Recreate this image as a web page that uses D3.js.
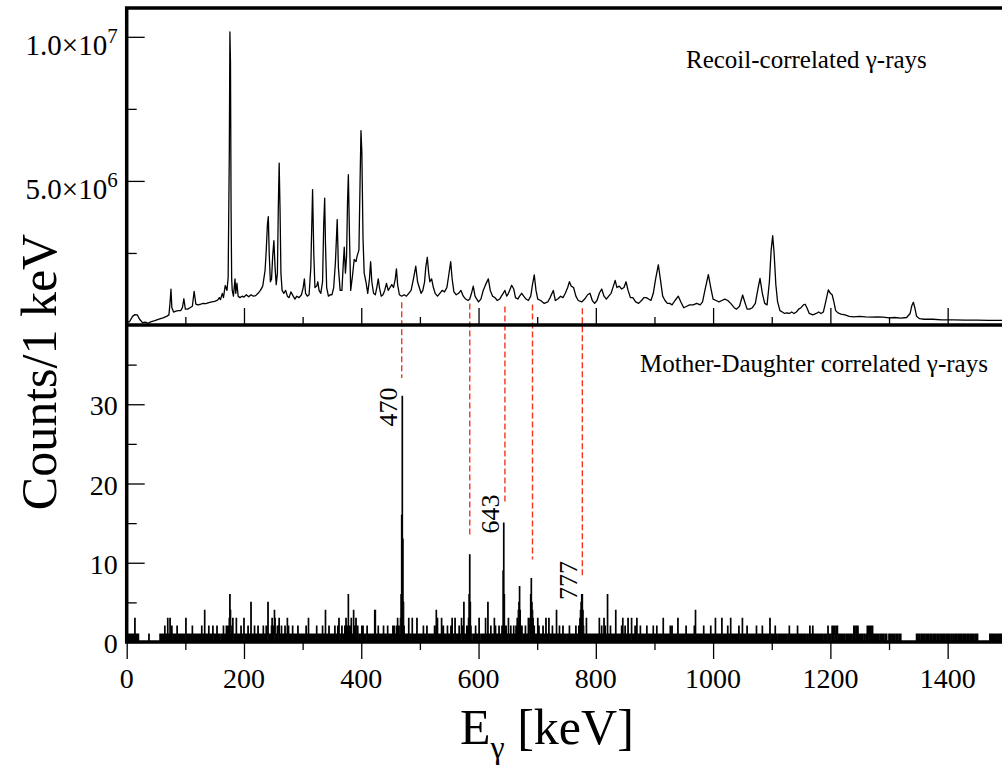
<!DOCTYPE html>
<html><head><meta charset="utf-8">
<script src="https://cdn.jsdelivr.net/npm/d3@7"></script>
<style>
body{margin:0;background:#fff}
svg{display:block}
svg text{font-family:"Liberation Serif","DejaVu Serif","Times New Roman",Times,serif;fill:#000}
</style>
</head><body>
<svg id="chart" width="1002" height="770" font-family="Liberation Serif, DejaVu Serif, serif"></svg>
<script>
// ---------- DATA ----------
// Top panel: recoil-correlated gamma spectrum (energy in keV, counts in units of 10^6)
const topEnergy = [0,5,10,14,18,22,27,32,36,42,48,55,62,68,72,74,75.5,77,80,84,88,92,95,97.5,100,104,108,112,115,118,122,126,130,135,140,145,150,155,158,160,163,165,168,171,173,175,176,177,178,179,180,182,184.7,186,188,190,193,197,200,204,208,212,216,220,224,228,232,236,238,240,241.5,243,245,247,249,251,253,255,257,258.5,260,261.5,263,265,268,271,274,277,280,284,287,290,294,298,301,303,305,308,311,314,317,319,321,324,326,328,331,334,336,337.6,339,341,344,347,350,353,356,359,361,364,367,369,371,373,375,376.5,378,380,382,385,388,391,393,396,398,399.5,401,403,405,408,411,414,416,418,421,424,426.5,429,431,434,437,440,443,446,449,452,455,458,460,462,465,469,473,477,481,485,489,493,496,499,502,505,508,510,512.6,515,517,520,523,526,530,534,538,542,546,549,552.5,555,558,562,566,570,574,578,582,585,588,591,594,597,600,604,608,612,616.7,620,624,628,632,636,639,642,645,648,651,656.5,660,663,667,670,673.6,677,681,685,689,692,695,698,701,706,712,718,722,727.5,731,735,740,744,748,752,755,758,762,766,770,776,781,786,790,794,798,802,806,810,814,818,822,826,830,833,836,840,844,848,851.5,855,859,863,868,873,878,882,886,890,894,898,902,906.6,910,914,918,922,926,930,935,940.7,945,950,955,960,966,972,978,982,986,991.9,996,1000,1005,1010,1015,1020,1025,1030,1036,1040,1045,1050.4,1054,1058,1062,1067,1072,1076,1080,1084,1088,1092,1096,1099,1101.6,1104,1107,1110,1114,1118,1122,1126,1130,1134,1138,1142,1146,1150,1154,1157,1160,1164,1170,1176,1180,1184,1188,1192,1196.5,1200,1203,1206,1209,1213,1218,1225,1232,1240,1250,1260,1270,1280,1290,1300,1310,1320,1330,1336,1339,1341.5,1344,1347,1352,1360,1375,1390,1410,1430,1450,1470,1490,1500];
const topCountsM = [0.08,0.12,0.30,0.36,0.35,0.20,0.08,0.10,0.06,0.12,0.15,0.20,0.25,0.30,0.35,0.8,1.24,0.6,0.45,0.48,0.5,0.5,0.6,0.91,0.55,0.55,0.6,0.65,1.17,0.72,0.7,0.72,0.75,0.74,0.78,0.8,0.82,0.86,0.95,0.88,1.1,0.95,1.37,1.2,1.65,6.0,10.17,9.1,4.0,1.6,1.2,1.0,1.6,1.1,1.45,1.0,0.95,1.0,0.97,1.05,0.98,1.05,1.0,1.02,1.1,1.2,1.35,1.9,2.6,3.5,3.76,2.5,1.5,1.6,2.4,2.93,2.0,1.4,1.8,4.0,5.62,4.0,1.8,1.2,1.1,1.2,1.0,0.95,1.15,1.0,0.9,1.0,0.95,1.05,1.3,1.6,1.1,1.0,1.05,2.0,4.7,2.5,1.3,1.35,1.5,1.2,1.1,1.5,3.5,4.4,2.8,1.3,1.0,1.05,1.05,1.3,2.2,3.66,2.0,1.2,1.2,2.0,2.7,1.8,2.4,4.2,5.22,3.0,1.2,1.7,2.28,2.2,2.4,2.6,5.0,6.74,6.0,3.0,1.8,1.5,1.1,1.6,2.2,1.5,1.1,1.05,1.3,1.6,1.3,1.0,1.05,1.2,1.44,1.2,1.3,1.4,1.3,1.6,1.95,1.4,1.05,1.0,1.05,1.0,1.1,1.2,1.6,2.04,1.5,1.3,1.1,1.2,1.5,2.0,2.35,1.8,1.5,1.6,1.3,1.1,1.0,1.1,1.2,1.15,1.3,1.7,2.2,1.6,1.15,1.05,1.1,1.2,1.0,0.9,0.85,0.9,1.1,1.35,1.0,0.9,0.8,0.9,1.2,1.4,1.6,1.2,1.0,0.95,0.85,0.9,1.0,1.1,1.2,1.0,1.1,1.38,1.25,0.95,0.9,1.0,1.1,1.0,0.9,0.85,1.0,1.4,1.74,1.2,0.9,0.85,0.75,0.8,0.95,1.2,0.85,0.9,1.0,0.95,1.1,1.3,1.5,1.35,1.3,1.0,0.85,0.8,0.9,1.05,1.1,0.85,0.75,0.85,1.1,1.25,1.0,0.9,1.0,1.1,1.35,1.55,1.3,1.35,1.25,1.3,1.5,1.2,0.95,0.95,0.8,0.75,0.85,0.95,0.95,0.9,0.85,1.1,1.6,2.09,1.6,1.0,0.85,0.75,0.75,0.7,0.85,1.0,0.8,0.6,0.65,0.7,0.7,0.75,0.7,0.8,1.2,1.75,1.3,0.9,0.85,0.8,0.85,0.9,0.85,0.75,0.6,0.55,0.65,1.04,0.8,0.55,0.55,0.6,0.75,1.2,1.62,1.1,0.75,0.7,1.5,2.6,3.1,2.5,1.4,0.8,0.5,0.45,0.4,0.42,0.4,0.45,0.4,0.45,0.55,0.6,0.7,0.72,0.6,0.4,0.35,0.4,0.45,0.4,0.45,0.8,1.22,1.1,1.05,0.8,0.5,0.42,0.38,0.35,0.3,0.28,0.3,0.28,0.27,0.28,0.27,0.25,0.26,0.24,0.26,0.4,0.68,0.79,0.6,0.3,0.22,0.2,0.2,0.18,0.18,0.17,0.17,0.16,0.16,0.16];

// Bottom panel: mother-daughter correlated counts per 1 keV channel (0..1499 keV),
// one character per channel, base-36 digits (a=10 ... v=31), 100 channels per string
const bottomCountsCoded = [
 "1010101010"+"1010301010"+"1000000000"+"0000000010"+"0000000000"+"0000000101"+"0101020101"+"3010301210"+"1010102010"+"1010101010",
 "0310101010"+"1020101010"+"1010101020"+"1014101010"+"2010101210"+"1010201010"+"0101020101"+"2121236410"+"2310101301"+"0101020101",
 "3101010210"+"1050101020"+"1010201010"+"1012101020"+"1510101230"+"2043101202"+"3101201010"+"2101302101"+"0102101010"+"1020101010",
 "1010102010"+"3101010101"+"0101201010"+"1010201014"+"1010120101"+"0101021010"+"2131010201"+"0120302161"+"2203101412"+"1301210101",
 "1202010101"+"2101010101"+"0104410102"+"1010101020"+"1010120101"+"0101212101"+"213120136g"+"vd52101010"+"1310101301"+"0101031010",
 "1010102101"+"0121010101"+"0101021041"+"3101010301"+"2101010201"+"0102130101"+"3101010201"+"1302150101"+"21236b5210"+"0101021010",
 "1310010101"+"0130105101"+"0210101302"+"1010120101"+"219f621210"+"1301021010"+"2010213245"+"7421210101"+"2101030236"+"8543121010",
 "1302101010"+"2101030101"+"3101012101"+"0104101020"+"1010201010"+"0101021010"+"1010102010"+"1213456642"+"1010301010"+"1010101010",
 "1010103010"+"2010302101"+"6101021010"+"1010410101"+"1010203010"+"2101030101"+"1301010201"+"3101012101"+"0101010201"+"1010101020",
 "1010201010"+"1010130101"+"0101010210"+"2010101010"+"3101010101"+"0101201010"+"1010101020"+"4101010101"+"0101210101"+"1010102010",
 "1010301010"+"1010130101"+"0101021010"+"3101010101"+"0101210101"+"3101010120"+"1010101010"+"1010201010"+"1010210101"+"1010101310",
 "1010102010"+"0101101010"+"1010101001"+"2010101010"+"1010210101"+"0101010100"+"1010020101"+"2010101010"+"1010101001"+"0101002101",
 "1012121201"+"2120101010"+"1010100101"+"0101010100"+"2121021201"+"0101010010"+"0102120212"+"2121101010"+"1010010101"+"0100101000",
 "1010010100"+"1001010010"+"1000000000"+"0000000000"+"0000000101"+"1010010101"+"1001011010"+"0101001010"+"1001010010"+"1010100101",
 "0101001001"+"0100101001"+"0101001010"+"1001010010"+"1010100101"+"0100000000"+"0000000000"+"0010110101"+"1011010110"+"1101011011"
];

const xMajorTicks = [0,200,400,600,800,1000,1200,1400];
const xMinorTicks = [100,300,500,700,900,1100,1300,1500];
const topYMajorTicks = [5,10];            // in 10^6 counts
const topYMinorTicks = [2.5,7.5];
const topYTickMantissa = ["5.0","1.0"];
const topYTickExponent = ["6","7"];
const bottomYMajorTicks = [0,10,20,30];
const bottomYMinorTicks = [5,15,25,35];

// Red dashed guide lines: energy, start (top panel, 10^6 counts), end (bottom panel, counts)
const markerEnergy = [469,585,645,692,777];
const markerTopM = [0.79,0.75,0.64,0.71,0.58];
const markerBottomCount = [33.3,13.3,17.5,10.4,8.1];

// Peak labels in the bottom panel
const peakLabels = ["470","643","777"];
const peakLabelEnergy = [470,643,777];
const peakLabelCount = [27.2,13.7,5.3];

const topTitle = "Recoil-correlated \u03b3-rays";
const bottomTitle = "Mother-Daughter correlated \u03b3-rays";

// ---------- CHART ----------
const FONT = "'Liberation Serif', 'DejaVu Serif', 'Times New Roman', serif";
const bottomCounts = bottomCountsCoded.join("").split("").map(c => parseInt(c,36));

const svg = d3.select("#chart");
const L = 126.7, R = 1006.3, T = 8, MID = 325, B = 642;

const x = d3.scaleLinear().domain([0,1500]).range([L,R]);
const yTop = d3.scaleLinear().domain([0,11]).range([MID,T]);
const yBot = d3.scaleLinear().domain([0,40]).range([B,MID]);

const defs = svg.append("defs");
defs.append("clipPath").attr("id","clipTop")
  .append("rect").attr("x",L).attr("y",T).attr("width",R-L).attr("height",MID-T);
defs.append("clipPath").attr("id","clipBot")
  .append("rect").attr("x",L).attr("y",MID).attr("width",R-L).attr("height",B-MID+1);

// red dashed guide lines
svg.append("g").selectAll("line").data(markerEnergy).join("line")
  .attr("x1",d=>x(d)).attr("x2",d=>x(d))
  .attr("y1",(d,i)=>yTop(markerTopM[i]))
  .attr("y2",(d,i)=>yBot(markerBottomCount[i]))
  .attr("stroke","#f3361f").attr("stroke-width",1.4)
  .attr("stroke-dasharray","6,3");

// top spectrum
const topPts = topEnergy.map((e,i)=>[e,topCountsM[i]]);
svg.append("path").datum(topPts)
  .attr("clip-path","url(#clipTop)")
  .attr("fill","none").attr("stroke","#000").attr("stroke-width",1.3)
  .attr("stroke-linejoin","round")
  .attr("d",d3.line().x(d=>x(d[0])).y(d=>yTop(d[1])));

// bottom histogram: densely alternating channels render as a dark band, so fill under the steps
const histG = svg.append("g").attr("clip-path","url(#clipBot)");
histG.append("path").datum(bottomCounts)
  .attr("fill","#000").attr("stroke","none")
  .attr("d",d3.area().curve(d3.curveStep).x((d,i)=>x(i)).y0(yBot(0)).y1(d=>yBot(d)));
histG.append("path").datum(bottomCounts)
  .attr("fill","none").attr("stroke","#000").attr("stroke-width",1.1)
  .attr("d",d3.line().curve(d3.curveStep).x((d,i)=>x(i)).y(d=>yBot(d)));

// ticks via d3 axes
function ticks(axis, transform){
  const g = svg.append("g").attr("transform",transform).call(axis);
  g.select(".domain").remove();
  g.selectAll("line").attr("stroke","#000").attr("stroke-width",1.3);
  g.selectAll("text").remove();
}
ticks(d3.axisBottom(x).tickValues(xMajorTicks).tickSize(-17),`translate(0,${MID})`);
ticks(d3.axisBottom(x).tickValues(xMinorTicks).tickSize(-8),`translate(0,${MID})`);
ticks(d3.axisBottom(x).tickValues(xMajorTicks).tickSize(17),`translate(0,${B})`);
ticks(d3.axisBottom(x).tickValues(xMinorTicks).tickSize(8),`translate(0,${B})`);
ticks(d3.axisLeft(yTop).tickValues(topYMajorTicks).tickSize(-18),`translate(${L},0)`);
ticks(d3.axisLeft(yTop).tickValues(topYMinorTicks).tickSize(-10),`translate(${L},0)`);
ticks(d3.axisLeft(yBot).tickValues(bottomYMajorTicks).tickSize(-18),`translate(${L},0)`);
ticks(d3.axisLeft(yBot).tickValues(bottomYMinorTicks).tickSize(-10),`translate(${L},0)`);

// frame
const frame = svg.append("g").attr("stroke","#000").attr("stroke-width",3.5).attr("fill","none");
frame.append("rect").attr("x",L).attr("y",T).attr("width",R-L).attr("height",B-T);
frame.append("line").attr("x1",L).attr("x2",R).attr("y1",MID).attr("y2",MID);

const txt = svg.append("g").attr("font-family",FONT).style("font-family",FONT);

// x tick labels
txt.append("g").selectAll("text").data(xMajorTicks).join("text")
  .attr("x",d=>x(d)).attr("y",B+46).attr("text-anchor","middle")
  .attr("font-size",28).text(d=>d);

// bottom y tick labels
txt.append("g").selectAll("text").data(bottomYMajorTicks).join("text")
  .attr("x",L-9).attr("y",d=>yBot(d)+11).attr("text-anchor","end")
  .attr("font-size",28).text(d=>d);

// top y tick labels with exponents
const tl = txt.append("g").selectAll("text").data(topYMajorTicks).join("text")
  .attr("x",L-9).attr("y",d=>yTop(d)+18).attr("text-anchor","end")
  .attr("font-size",29);
tl.append("tspan").text((d,i)=>topYTickMantissa[i]+"\u00d710");
tl.append("tspan").attr("dy",-12).attr("font-size",21).text((d,i)=>topYTickExponent[i]);

// axis titles
txt.append("text").attr("transform",`translate(56,372) rotate(-90)`)
  .attr("text-anchor","middle").attr("font-size",50).text("Counts/1 keV");
const xt = txt.append("text").attr("x",460).attr("y",744).attr("font-size",50);
xt.append("tspan").text("E");
xt.append("tspan").attr("font-size",32).attr("dy",14).text("\u03b3");
xt.append("tspan").attr("dy",-14).text(" [keV]");

// panel titles
txt.append("text").attr("x",686).attr("y",68).attr("font-size",25).text(topTitle);
txt.append("text").attr("x",640).attr("y",372).attr("font-size",25).text(bottomTitle);

// peak labels
txt.append("g").selectAll("text").data(peakLabels).join("text")
  .attr("transform",(d,i)=>`translate(${x(peakLabelEnergy[i])-5},${yBot(peakLabelCount[i])}) rotate(-90)`)
  .attr("font-size",26).text(d=>d);
</script>
</body></html>
